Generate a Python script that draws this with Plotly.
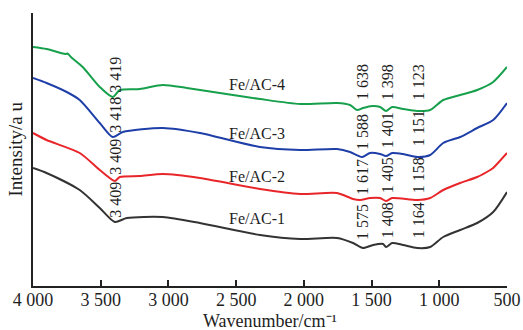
import plotly.graph_objects as go

# ---- data (intensity in arbitrary units) ----
wn_ac4 = [4000, 3900, 3795, 3760, 3745, 3720, 3633, 3507, 3411, 3359, 3211, 3041, 2864, 2524, 2324,
          2028, 1755, 1659, 1607, 1563, 1496, 1437, 1393, 1348, 1267, 1163, 1067, 971, 846, 720, 602, 500]
int_ac4 = [239, 237, 233, 232, 232.5, 229, 219, 199, 189, 196, 197, 201, 198, 191, 187,
           182, 183, 181, 176, 178, 180, 179, 175, 179, 177, 175, 176, 186, 191, 196, 204, 219]

wn_ac3 = [4000, 3900, 3751, 3655, 3507, 3411, 3337, 3041, 2768, 2324, 2028, 1755, 1659, 1570, 1511,
          1437, 1393, 1348, 1267, 1163, 1067, 971, 846, 720, 602, 500]
int_ac3 = [208, 203, 194, 186, 163, 149, 154, 158, 153, 139, 136, 137, 134, 129, 133,
           132, 130, 133, 132, 129, 131, 143, 149, 158, 166, 183]

wn_ac2 = [4000, 3900, 3655, 3507, 3396, 3359, 3211, 3041, 2768, 2324, 2028, 1755, 1637, 1585, 1511,
          1437, 1393, 1348, 1163, 1067, 971, 846, 720, 624, 602, 500]
int_ac2 = [153, 146, 133, 116, 105, 109, 110, 112, 108, 97, 92, 93, 87, 86, 88,
           88, 85, 88, 86, 88, 96, 103, 109, 116, 118, 133]

wn_ac1 = [4000, 3900, 3655, 3507, 3396, 3307, 3041, 2768, 2324, 2028, 1755, 1637, 1563, 1489, 1415,
          1393, 1348, 1267, 1163, 1067, 971, 846, 720, 602, 500]
int_ac1 = [118, 113, 96, 78, 64, 68, 69, 63, 51, 47, 48, 43, 38, 41, 42,
           39, 43, 41, 38, 39, 49, 56, 63, 74, 94]

series_names = ["Fe/AC-1", "Fe/AC-2", "Fe/AC-3", "Fe/AC-4"]
series_colors = ["#333333", "#e8262a", "#1f3fa8", "#17a04c"]
label_wn = 2346
label_int = [68, 110, 153, 202]

# peak labels: text, wavenumber position, bottom intensity
peak_text = ["3 419", "3 418", "3 409", "3 409",
             "1 638", "1 398", "1 123",
             "1 588", "1 401", "1 151",
             "1 617", "1 405", "1 158",
             "1 575", "1 408", "1 164"]
peak_wn = [3396, 3396, 3396, 3396,
           1570, 1385, 1156,
           1570, 1385, 1156,
           1570, 1385, 1156,
           1570, 1385, 1156]
peak_int = [191, 151, 109, 66,
            184, 184, 184,
            134, 136, 138,
            89, 91, 91,
            44, 46, 46]

tick_vals = [4000, 3500, 3000, 2500, 2000, 1500, 1000, 500]
tick_text = ["4 000", "3 500", "3 000", "2 500", "2 000", "1 500", "1 000", "500"]

FONT = "Liberation Serif"
TXT = "#1e1e1e"

fig = go.Figure()
xs = [wn_ac1, wn_ac2, wn_ac3, wn_ac4]
ys = [int_ac1, int_ac2, int_ac3, int_ac4]
for name, col, x, y in zip(series_names, series_colors, xs, ys):
    fig.add_trace(go.Scatter(x=x, y=y, mode="lines", name=name,
                             line=dict(color=col, width=2, shape="spline", smoothing=0.7),
                             showlegend=False))

for name, yi in zip(series_names, label_int):
    fig.add_annotation(x=label_wn, y=yi, text=name, showarrow=False,
                       font=dict(family=FONT, size=16, color=TXT),
                       xanchor="center", yanchor="middle")

for t, xw, yi in zip(peak_text, peak_wn, peak_int):
    fig.add_annotation(x=xw, y=yi, text=t, showarrow=False, textangle=-90,
                       font=dict(family=FONT, size=16, color=TXT),
                       xanchor="center", yanchor="bottom")

fig.add_annotation(xref="paper", yref="paper", x=0, y=0.5, xshift=-18,
                   text="Intensity/a u", showarrow=False, textangle=-90,
                   font=dict(family=FONT, size=19, color=TXT),
                   xanchor="center", yanchor="middle")

fig.add_annotation(xref="paper", yref="paper", x=0.5, y=0, yshift=-47,
                   text="Wavenumber/cm⁻¹", showarrow=False,
                   font=dict(family=FONT, size=18, color=TXT),
                   xanchor="center", yanchor="bottom")

fig.update_layout(
    width=523, height=330,
    margin=dict(l=33, r=16, t=13, b=44),
    paper_bgcolor="white", plot_bgcolor="white",
    xaxis=dict(range=[4000, 500], tickvals=tick_vals, ticktext=tick_text, automargin=False,
               ticks="inside", ticklen=6, tickwidth=1.5, tickcolor="#222", ticklabelstandoff=-3,
               showline=True, linecolor="#222", linewidth=1.5, showgrid=False, zeroline=False,
               tickfont=dict(family=FONT, size=18, color=TXT)),
    yaxis=dict(range=[0, 273], showline=True, linecolor="#222", linewidth=1.5, automargin=False,
               showticklabels=False, ticks="", showgrid=False, zeroline=False),
)

fig.write_html("out.html")
